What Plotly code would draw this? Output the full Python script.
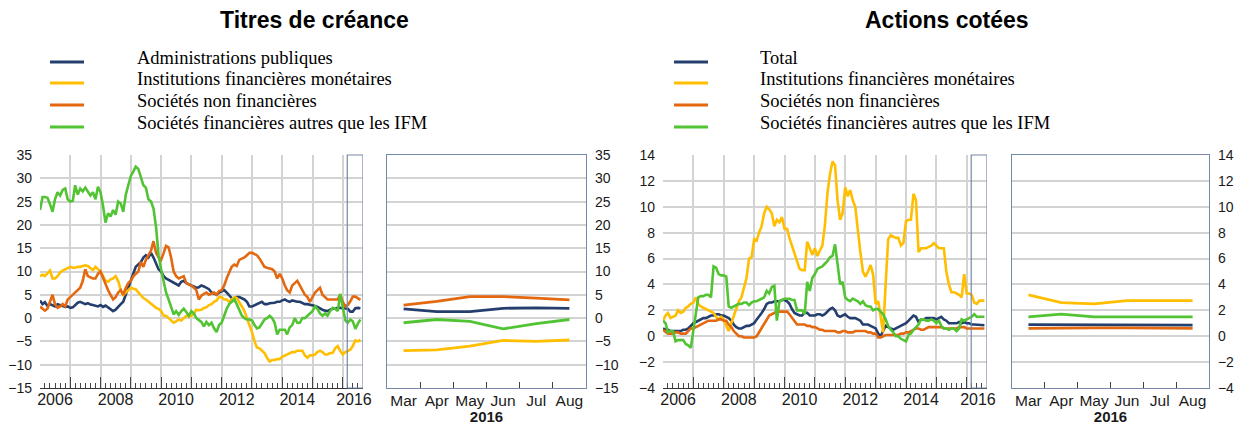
import plotly.graph_objects as go
import pandas as pd

W, H = 1254, 425

# ---------------- data ----------------
DATES = pd.date_range("2006-01-01", periods=128, freq="MS")
ZOOM_MONTHS = ["Mar", "Apr", "May", "Jun", "Jul", "Aug"]
YEAR_LABELS = ["2006", "2008", "2010", "2012", "2014", "2016"]
YEAR_LABEL_DATES = ["2006-07-01", "2008-07-01", "2010-07-01", "2012-07-01", "2014-07-01", "2016-05-15"]

LEFT_TITLE = "Titres de créance"
RIGHT_TITLE = "Actions cotées"
LEFT_NAMES = ["Administrations publiques", "Institutions financières monétaires",
              "Sociétés non financières", "Sociétés financières autres que les IFM"]
RIGHT_NAMES = ["Total", "Institutions financières monétaires",
               "Sociétés non financières", "Sociétés financières autres que les IFM"]

# Titres de créance
debt_ap = [3.8, 3.0, 3.4, 2.6, 3.0, 2.7, 2.5, 3.0, 2.8, 2.6, 2.4, 2.5,
           2.2, 2.3, 2.8, 3.3, 3.5, 3.2, 3.0, 3.2, 2.9, 2.8, 2.7, 2.5,
           2.8, 2.4, 2.7, 2.3, 2.0, 1.5, 1.8, 2.5, 3.0, 3.5, 5.0, 6.5,
           8.0, 9.5, 11.0, 11.5, 12.0, 13.0, 13.5, 13.0, 14.0, 13.0, 11.5, 10.5,
           10.0, 9.0, 8.5, 8.2, 7.8, 7.5, 7.2, 7.0, 7.8, 8.0, 7.5, 7.2,
           7.0, 6.8, 6.5, 6.6, 7.0, 6.8, 6.5, 6.2, 5.5, 5.3, 5.0, 5.5,
           5.8, 6.0, 5.5, 5.0, 4.3, 4.2, 4.5, 4.5, 4.2, 4.0, 3.5, 2.5,
           2.5, 2.8, 3.0, 3.3, 3.5, 3.0, 3.0, 3.2, 3.2, 3.3, 3.5, 3.5,
           3.8, 4.0, 3.7, 3.5, 3.8, 3.6, 3.5, 3.5, 3.2, 3.0, 3.0, 2.9,
           2.8, 2.6, 2.4, 2.0, 1.8, 1.6, 1.5, 1.8, 2.0, 2.0, 2.2, 2.2,
           2.1, 2.0, 2.0, 1.4, 1.4, 2.1, 2.2, 2.1]
debt_ifm = [9.0, 9.3, 9.0, 9.5, 10.2, 8.5, 8.5, 9.0, 9.8, 10.2, 10.5, 10.8,
            11.0, 10.8, 10.8, 11.0, 11.0, 11.2, 11.3, 11.2, 10.8, 10.3, 11.0, 10.5,
            10.0, 9.0, 8.0, 7.8, 8.3, 8.5, 9.0, 8.0, 6.0, 5.0, 5.5, 6.0,
            6.5, 6.3, 6.2, 5.5, 4.8, 4.3, 4.0, 3.5, 3.0, 2.5, 2.2, 2.0,
            1.5, 0.5, 0.5, 0.0, -0.5, -1.0, -0.7, -0.3, -0.5, 0.0, 0.5, 0.3,
            0.5, 1.0, 1.8, 1.7, 1.8, 2.2, 2.3, 2.8, 3.0, 3.5, 3.8, 4.5,
            4.5, 4.0, 4.0, 3.5, 4.0, 4.5, 4.3, 3.5, 2.5, 1.5, 0.0, -1.5,
            -3.0, -5.0, -6.3, -6.5, -7.0, -7.5, -8.5, -9.3, -9.0, -9.0, -8.8, -8.8,
            -8.3, -8.0, -7.8, -7.5, -7.3, -7.3, -7.0, -7.0, -7.0, -8.0, -8.5, -8.0,
            -8.0, -7.8, -7.3, -7.0, -7.3, -7.8, -7.8, -7.5, -7.5, -6.5, -6.0, -7.0,
            -7.8, -7.3, -7.0, -6.8, -6.0, -4.8, -5.0, -4.7]
debt_snf = [2.5, 2.0, 1.6, 2.0, 3.5, 5.0, 3.0, 2.2, 2.5, 3.0, 2.5, 4.0,
            4.5, 5.0, 5.3, 6.0, 6.5, 8.0, 10.5, 9.0, 8.7, 8.5, 8.5, 9.5,
            10.0, 8.5, 7.2, 6.0, 5.0, 4.0, 4.5, 5.5, 6.0, 5.0, 6.5, 7.5,
            8.0, 9.0, 9.5, 10.0, 12.0, 11.0, 12.5, 13.5, 14.5, 16.5, 14.0, 13.0,
            12.5, 14.0, 15.5, 15.2, 13.0, 10.0, 9.0, 8.5, 8.8, 9.0, 7.5, 7.2,
            7.0, 6.5, 6.0, 4.0, 4.8, 5.2, 5.5, 5.0, 5.3, 5.5, 5.0, 5.8,
            6.0, 7.0, 8.5, 10.0, 11.0, 11.5, 11.2, 12.5, 12.7, 13.0, 13.5, 14.0,
            14.0, 13.8, 13.5, 12.8, 12.0, 11.0, 10.8, 10.7, 10.5, 10.0, 8.5, 9.5,
            8.5, 7.0, 6.0, 5.5, 7.0, 7.5, 8.0, 7.0, 6.0, 5.0, 4.5, 3.5,
            4.5, 5.5, 6.0, 6.5, 5.0, 4.5, 4.0, 4.0, 4.0, 4.0, 4.0, 5.0,
            3.5, 2.5, 2.8, 3.6, 4.6, 4.6, 4.3, 3.9]
debt_sfa = [23.2, 26.0, 26.0, 25.8, 24.5, 22.8, 25.5, 27.0, 26.3, 27.5, 27.8, 25.5,
            25.0, 25.2, 28.5, 26.5, 27.8, 27.2, 28.0, 27.0, 26.3, 27.0, 25.5, 28.2,
            27.0, 24.0, 20.5, 22.5, 21.8, 23.2, 22.2, 25.0, 24.6, 22.8, 26.5, 28.5,
            30.5, 31.5, 32.5, 32.0, 30.5, 28.5, 28.0, 25.5, 25.0, 23.5, 19.5, 13.5,
            10.5, 8.0, 5.5, 4.0, 2.5, 0.8, 1.5, 0.7, 1.5, 2.0, 1.3, 0.5,
            1.5, 1.0, 0.0, -0.5, -0.8, -1.8, -0.8, -1.5, -1.0, -2.2, -3.0, -1.5,
            -1.0, 0.5, 2.0, 3.0, 3.5, 4.0, 3.0, 1.8, 0.5, 0.0, -0.3, -0.3,
            -0.5, -1.5, -2.2, -2.0, -1.0, -0.3, 0.0, 0.5, 0.0, -1.0, -3.5, -2.5,
            -2.5, -2.5, -3.5, -2.0, -1.5, 0.0, -1.0, -1.0, 0.0, 0.0, 0.5, 1.0,
            1.5, 2.5, 2.0, 1.0, 0.5, 1.0, 0.5, 1.5, 2.2, 2.0, 1.5, 5.2,
            2.0, -0.5, -1.0, -0.3, -0.7, -2.3, -1.2, -0.3]

# Actions cotées
eq_total = [0.6, 0.5, 0.5, 0.4, 0.4, 0.4, 0.4, 0.4, 0.5, 0.5, 0.6, 0.8,
            1.0, 1.1, 1.2, 1.3, 1.4, 1.4, 1.5, 1.6, 1.6, 1.7, 1.7, 1.6,
            1.6, 1.5, 1.4, 1.2, 0.9, 0.7, 0.6, 0.6, 0.7, 0.8, 0.8, 0.9,
            1.0, 1.3, 1.5, 1.8, 2.1, 2.5, 2.6, 2.6, 2.7, 2.7, 2.7, 2.8,
            2.8, 2.7, 2.5, 2.1, 1.8, 1.7, 1.6, 1.6, 1.8, 1.8, 1.6, 1.6,
            1.6, 1.7, 1.7, 1.6, 1.7, 1.9, 2.1, 2.2, 2.0, 1.6, 1.5, 1.6,
            1.7, 1.5, 1.4, 1.4, 1.4, 1.3, 1.2, 0.9, 0.9, 0.9, 0.8, 0.7,
            0.6, 0.2, 0.0, 0.4, 0.8, 0.7, 0.6, 0.5, 0.6, 0.7, 0.8, 0.9,
            1.0, 1.2, 1.4, 1.6, 1.5, 1.1, 1.3, 1.3, 1.4, 1.4, 1.4, 1.4,
            1.3, 1.4, 1.5, 1.3, 1.2, 1.0, 1.0, 1.0, 1.0, 1.1, 1.0, 1.1,
            1.0, 1.0, 0.9, 0.9, 0.9, 0.9, 0.85, 0.85]
eq_ifm = [1.2, 1.6, 1.8, 1.4, 1.5, 1.6, 2.0, 1.8, 1.9, 2.2, 2.3, 2.5,
          2.6, 3.0, 2.5, 2.3, 2.2, 2.1, 2.0, 1.9, 1.8, 1.5, 1.3, 1.5,
          1.3, 0.8, 0.4, 1.0, 1.6, 2.2, 2.7, 3.0, 3.8, 4.5, 6.0, 6.1,
          7.5, 7.4, 8.0, 8.5, 9.5, 10.0, 9.8, 9.5, 8.5, 9.0, 8.8, 9.2,
          8.3, 8.3, 7.6, 7.0, 6.5, 5.8, 5.2, 5.1, 5.1, 7.3, 6.8, 6.3,
          6.8, 6.2, 6.6, 7.0, 8.5, 11.0, 12.5, 13.5, 13.2, 10.5, 9.0, 9.5,
          11.5, 10.8, 11.3, 10.5, 10.0, 8.0, 6.5, 5.0, 4.6, 5.0, 5.5, 4.8,
          2.5, 2.7, 1.5, 0.3, 4.0, 7.5, 7.8, 7.7, 7.6, 7.6, 7.0, 7.2,
          8.9, 9.0, 9.0, 11.0, 10.5, 6.5, 6.8, 6.8, 6.8, 6.9, 7.0, 7.2,
          7.0, 6.8, 6.8, 6.8, 5.0, 4.0, 3.4, 3.4, 3.3, 3.2, 3.0, 4.8,
          3.3, 3.3, 3.2, 2.6, 2.5, 2.75, 2.75, 2.75]
eq_snf = [0.5, 0.3, 0.2, 0.2, 0.2, 0.3, 0.3, 0.2, 0.2, 0.2, 0.4, 0.6,
          0.6, 0.7, 0.8, 0.9, 1.0, 1.1, 1.2, 1.2, 1.2, 1.2, 1.3, 1.3,
          1.2, 1.2, 0.9, 0.7, 0.4, 0.2, 0.0, 0.0, -0.1, -0.1, -0.1, -0.1,
          -0.1, 0.0, 0.3, 0.6, 1.0, 1.3, 1.6, 1.7, 1.8, 1.9, 1.9, 1.9,
          1.9, 1.9, 1.7, 1.4, 1.1, 0.9, 0.9, 0.9, 0.9, 0.8, 0.8, 0.7,
          0.7, 0.6, 0.5, 0.5, 0.4, 0.4, 0.4, 0.4, 0.4, 0.3, 0.3, 0.4,
          0.4, 0.3, 0.3, 0.3, 0.4, 0.4, 0.4, 0.4, 0.4, 0.3, 0.3, 0.2,
          0.2, -0.1, -0.1, 0.0, 0.1, 0.1, 0.1, 0.1, 0.1, 0.1, 0.2, 0.2,
          0.3, 0.3, 0.4, 0.5, 0.6, 0.6, 0.5, 0.5, 0.6, 0.7, 0.7, 0.7,
          0.7, 0.7, 0.7, 0.6, 0.6, 0.6, 0.6, 0.6, 0.6, 0.7, 0.7, 0.7,
          0.6, 0.6, 0.6, 0.65, 0.65, 0.65, 0.6, 0.6]
eq_sfa = [1.2, 1.0, 0.3, 0.4, 0.4, -0.4, -0.3, -0.3, -0.3, -0.6, -0.7, -0.9,
          0.5, 2.0, 3.0, 3.1, 3.1, 3.2, 3.2, 3.0, 5.4, 5.3, 4.8, 4.7,
          4.7, 4.6, 2.3, 2.2, 2.3, 2.4, 2.5, 2.5, 2.6, 2.6, 2.4, 2.6,
          2.7, 2.7, 2.8, 2.9, 3.0, 3.5, 3.3, 3.8, 3.9, 1.2, 2.7, 2.8,
          2.9, 2.9, 2.9, 2.8, 2.8, 2.0, 2.0, 2.0, 1.7, 4.2, 3.5, 4.5,
          4.8, 5.2, 5.3, 5.4, 5.6, 5.8, 6.1, 6.2, 7.1, 5.5, 4.0, 4.2,
          3.0, 2.8, 2.7, 2.9, 2.8, 2.7, 2.5, 2.7, 2.4, 2.3, 2.3, 2.0,
          2.1, 2.1, 1.9, 1.7, 1.3, 0.8, 0.5, 0.3, 0.0, 0.0, -0.2, -0.3,
          -0.4, 0.1, 0.2, 0.5, 0.7, 0.9, 1.3, 1.3, 1.2, 1.2, 1.3, 1.2,
          1.0, 1.2, 0.8, 0.6, 0.6, 0.5, 0.6, 0.6, 0.4, 0.6, 1.3, 1.2,
          1.3, 1.4, 1.5, 1.7, 1.5, 1.5, 1.5, 1.5]

COLORS = ["#243f6e", "#ffbe00", "#e3680f", "#52c433"]

# ---------------- layout helpers ----------------
def px_x(p):
    return p / W

def px_y(p):
    return 1 - p / H

Y_DOM = [px_y(388), px_y(155)]
DOM = {
    "lm": [px_x(40), px_x(363)],
    "lz": [px_x(387), px_x(586)],
    "rm": [px_x(663), px_x(987)],
    "rz": [px_x(1012), px_x(1209)],
}
X_RANGE = ["2006-01-01", "2016-09-01"]
BOX_START = "2016-02-24"
GRID = "#d3d3d3"
FRAME = "#7489a8"
TICKC = "#444444"
FONT = "Liberation Sans, Arial, sans-serif"
YFONT = dict(family=FONT, size=14, color="#1a1a1a")
XFONT = dict(family=FONT, size=16, color="#1a1a1a")
MFONT = dict(family=FONT, size=15.5, color="#1a1a1a")

fig = go.Figure()

panels = [
    ("x", "y", "x2", "y2", "x5", [debt_ap, debt_ifm, debt_snf, debt_sfa], LEFT_NAMES),
    ("x3", "y3", "x4", "y4", "x6", [eq_total, eq_ifm, eq_snf, eq_sfa], RIGHT_NAMES),
]
zoom_idx = list(range(len(ZOOM_MONTHS)))
for xm, ym, xz, yz, xl, series, names in panels:
    for vals, name, col in zip(series, names, COLORS):
        fig.add_trace(go.Scatter(x=DATES, y=vals, mode="lines", name=name,
                                 line=dict(color=col, width=2.6),
                                 xaxis=xm, yaxis=ym, showlegend=False, hoverinfo="skip"))
    for vals, name, col in zip(series, names, COLORS):
        fig.add_trace(go.Scatter(x=zoom_idx, y=vals[-len(ZOOM_MONTHS):], mode="lines", name=name,
                                 line=dict(color=col, width=2.8),
                                 xaxis=xz, yaxis=yz, showlegend=False, hoverinfo="skip"))
    # empty trace so that the year-label axis (overlaying the main x axis) is drawn
    fig.add_trace(go.Scatter(x=[], y=[], xaxis=xl, yaxis=ym, showlegend=False, hoverinfo="skip"))

def main_x(dom, anchor):
    return dict(domain=dom, anchor=anchor, type="date", range=X_RANGE, tickmode="linear",
                tick0="2006-01-01", dtick="M12", showgrid=True, gridcolor=GRID, gridwidth=1.5,
                ticks="inside", ticklen=11, tickcolor=TICKC, tickwidth=1,
                showticklabels=False, showline=True, linecolor="#333333", linewidth=1,
                zeroline=False, automargin=False,
                minor=dict(tick0="2006-01-01", dtick="M2", ticks="inside", ticklen=5,
                           tickcolor=TICKC, tickwidth=1, showgrid=False))

def label_x(over, anchor):
    return dict(overlaying=over, anchor=anchor, type="date", range=X_RANGE,
                tickmode="array", tickvals=YEAR_LABEL_DATES, ticktext=YEAR_LABELS,
                ticks="", showgrid=False, showline=False, zeroline=False,
                tickfont=XFONT, automargin=False)

def main_y(anchor, rng, dt):
    return dict(domain=Y_DOM, anchor=anchor, range=rng, dtick=dt, tick0=0,
                showgrid=True, gridcolor=GRID, gridwidth=1.5, zeroline=False,
                showline=False, ticks="", tickfont=YFONT, automargin=False,
                ticklabelstandoff=7)

def zoom_x(dom, anchor):
    return dict(domain=dom, anchor=anchor, range=[-0.5, len(ZOOM_MONTHS) - 0.5],
                tickmode="array", tickvals=zoom_idx, ticktext=ZOOM_MONTHS,
                ticks="", showgrid=False, zeroline=False, tickfont=MFONT,
                showline=True, mirror=True, linecolor=FRAME, linewidth=1.2,
                automargin=False, ticklabelstandoff=-2,
                minor=dict(tickmode="array", tickvals=[i + 0.5 for i in zoom_idx[:-1]],
                           ticks="inside", ticklen=6, tickcolor=TICKC, tickwidth=1, showgrid=False),
                title=dict(text="<b>2016</b>", font=dict(family=FONT, size=15, color="#1a1a1a"),
                           standoff=1))

def zoom_y(anchor, rng, dt):
    return dict(domain=Y_DOM, anchor=anchor, side="right", range=rng, dtick=dt, tick0=0,
                showgrid=True, gridcolor=GRID, gridwidth=1.5, zeroline=False,
                showline=True, mirror=True, linecolor=FRAME, linewidth=1.2,
                ticks="", tickfont=YFONT, automargin=False, ticklabelstandoff=5)

fig.update_layout(
    width=W, height=H, margin=dict(l=0, r=0, t=0, b=0, autoexpand=False),
    paper_bgcolor="white", plot_bgcolor="white", showlegend=False,
    xaxis=main_x(DOM["lm"], "y"), yaxis=main_y("x", [-15, 35], 5),
    xaxis2=zoom_x(DOM["lz"], "y2"), yaxis2=zoom_y("x2", [-15, 35], 5),
    xaxis3=main_x(DOM["rm"], "y3"), yaxis3=main_y("x3", [-4, 14], 2),
    xaxis4=zoom_x(DOM["rz"], "y4"), yaxis4=zoom_y("x4", [-4, 14], 2),
    xaxis5=label_x("x", "y"), xaxis6=label_x("x3", "y3"),
)

# highlight boxes on main charts
for xr, yr in [("x", "y"), ("x3", "y3")]:
    fig.add_shape(type="rect", xref=xr, yref=yr + " domain", x0=BOX_START, x1=X_RANGE[1],
                  y0=0, y1=1, line=dict(color=FRAME, width=1.2), fillcolor="rgba(0,0,0,0)")

# titles
for title, cx in [(LEFT_TITLE, 314), (RIGHT_TITLE, 947)]:
    fig.add_annotation(text="<b>%s</b>" % title, x=px_x(cx), y=px_y(20), xref="paper", yref="paper",
                       showarrow=False, xanchor="center", yanchor="middle",
                       font=dict(family=FONT, size=23, color="#000000"))

# legends
LEG_ROWS = [62, 83, 105, 127]
for names, lx0, lx1, tx in [(LEFT_NAMES, 50, 84, 135), (RIGHT_NAMES, 674, 708, 758)]:
    for name, col, ry in zip(names, COLORS, LEG_ROWS):
        fig.add_shape(type="line", xref="paper", yref="paper", x0=px_x(lx0), x1=px_x(lx1),
                      y0=px_y(ry), y1=px_y(ry), line=dict(color=col, width=3))
        fig.add_annotation(text=name, x=px_x(tx), y=px_y(ry - 4), xref="paper", yref="paper",
                           showarrow=False, xanchor="left", yanchor="middle",
                           font=dict(family="Liberation Serif, Times New Roman, serif", size=18.5,
                                     color="#000000"))

fig.write_html("out.html", config={"displayModeBar": False},
               post_script="document.body.style.margin='0';")
